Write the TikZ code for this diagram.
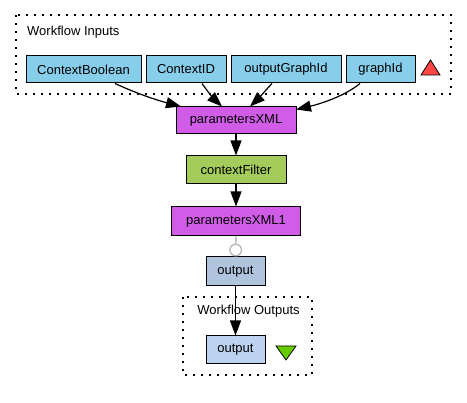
\documentclass[tikz,border=0pt]{standalone}
\usepackage{fontspec}
\setmainfont{Liberation Sans}
\usetikzlibrary{arrows.meta}
\definecolor{inblue}{HTML}{87CEEB}
\definecolor{procmag}{HTML}{D05CE8}
\definecolor{procgreen}{HTML}{A3CC5B}
\definecolor{outport}{HTML}{B0C4DE}
\definecolor{wfout}{HTML}{BCD2EE}
\definecolor{trired}{HTML}{FF4444}
\definecolor{trigreen}{HTML}{66CC00}
\tikzset{
  x=1pt, y=-1pt,
  box/.style={draw=black, line width=1pt, rectangle, inner sep=0pt,
    font=\fontsize{13}{15}\selectfont, minimum height=27pt},
  cluster/.style={draw=black, line width=1.6pt, dash pattern=on 1.6pt off 6.4pt},
  edge/.style={draw=black, line width=1.2pt, -{Triangle[length=15pt,width=11pt]}},
  lbl/.style={font=\fontsize{13}{15}\selectfont, inner sep=0pt},
  tri/.style={draw=black, line width=0.8pt}
}
\begin{document}
\begin{tikzpicture}
\useasboundingbox (0,0) rectangle (467,403);
% clusters
\draw[cluster] (16,15) rectangle (451,94);
\node[lbl, anchor=base west] (inlbl) at (27,35.5) {Workflow Inputs};
\draw[cluster] (183,297) rectangle (312,375);
\node[lbl] (outlbl) at (248.5,311) {Workflow Outputs};
% input nodes
\node[box, fill=inblue, minimum width=115pt] (cb) at (83.5,69.5) {ContextBoolean};
\node[box, fill=inblue, minimum width=80pt] (cid) at (186,69.5) {ContextID};
\node[box, fill=inblue, minimum width=110pt] (ogi) at (286,69.5) {outputGraphId};
\node[box, fill=inblue, minimum width=69pt] (gid) at (380.5,69.5) {graphId};
\draw[tri, fill=trired] (421,75) -- (440,75) -- (430.5,60) -- cycle;
% processors
\node[box, fill=procmag, minimum width=120pt] (pxml) at (236,120.5) {parametersXML};
\node[box, fill=procgreen, minimum width=100pt, minimum height=28pt] (cf) at (236,170) {contextFilter};
\node[box, fill=procmag, minimum width=129pt, minimum height=29pt] (pxml1) at (236,221.5) {parametersXML1};
\node[box, fill=outport, minimum width=59pt, minimum height=29pt] (out1) at (235.5,271.5) {output};
\node[box, fill=wfout, minimum width=59pt, minimum height=28pt] (out2) at (235.5,350) {output};
\draw[tri, fill=trigreen] (276,346) -- (296,346) -- (286,360) -- cycle;
% edges
\coordinate (cbs) at ([xshift=31.5pt]cb.south);
\coordinate (cids) at ([xshift=16pt]cid.south);
\coordinate (ogis) at ([xshift=-14pt]ogi.south);
\coordinate (gids) at ([xshift=-20.5pt]gid.south);
\coordinate (pa) at ([xshift=-55pt]pxml.north);
\coordinate (pb) at ([xshift=-14pt]pxml.north);
\coordinate (pc) at ([xshift=14pt]pxml.north);
\coordinate (pd) at ([xshift=60pt,yshift=-3pt]pxml.north);
\draw[edge] (cbs) .. controls (140,95) and (160,101) .. (pa);
\draw[edge] (cids) .. controls (208,92) and (214,99) .. (pb);
\draw[edge] (ogis) .. controls (265,91) and (258,99) .. (pc);
\draw[edge] (gids) .. controls (345,96) and (320,104) .. (pd);
\draw[edge] (pxml) -- (cf);
\draw[edge] (cf) -- (pxml1);
\draw[draw=gray!55, line width=1.4pt, -{Circle[open,length=13pt,width=13pt]}] (pxml1) -- (out1);
\draw[edge] (out1) -- (out2);
\end{tikzpicture}
\end{document}
